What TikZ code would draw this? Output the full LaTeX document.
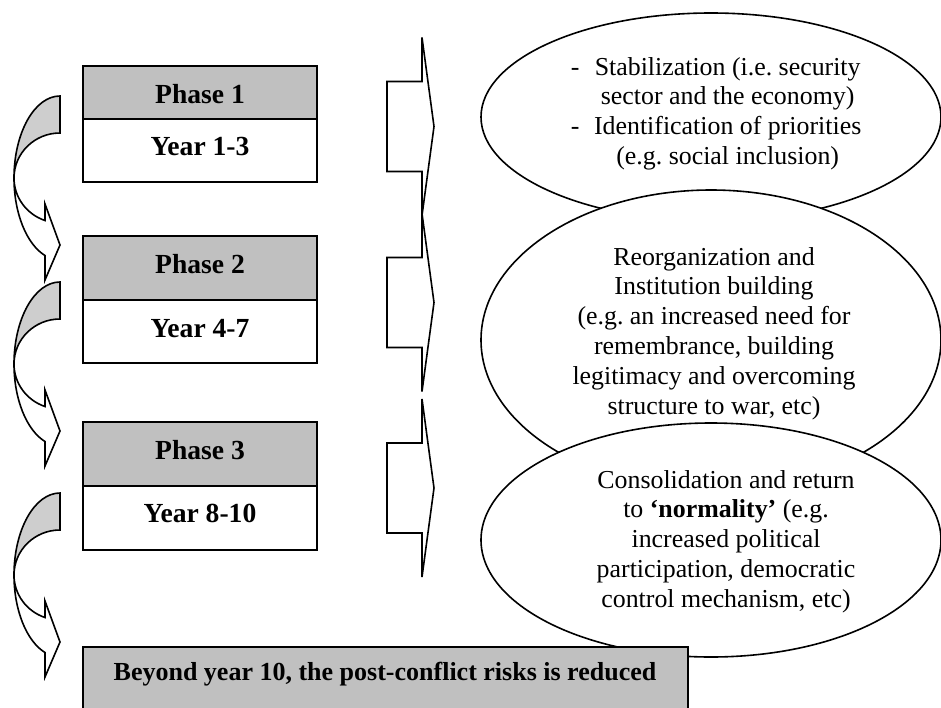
\documentclass[tikz,border=0pt]{standalone}
\usepackage{fontspec}
\setmainfont{Liberation Serif}
\usetikzlibrary{shapes.geometric}
\definecolor{boxgray}{RGB}{192,192,192}
\definecolor{arrowgray}{RGB}{206,206,206}
\frenchspacing
\begin{document}
\begin{tikzpicture}[x=0.75pt,y=-0.75pt,
  line width=1.2pt,
  cellg/.style={draw, fill=boxgray, line width=1.5pt, rectangle, inner sep=0pt, outer sep=0pt, anchor=north west, minimum width=175.5pt},
  cellw/.style={cellg, fill=white},
  lab/.style={inner sep=0pt, anchor=base, font=\fontsize{20.7}{24}\selectfont\bfseries},
  ell/.style={draw, fill=white, ellipse, inner sep=0pt, outer sep=0pt, minimum width=345pt},
  etext/.style={inner sep=0pt, font=\fontsize{19.4}{22.4}\selectfont\frenchspacing},
  curvarr/.pic={
    \filldraw[fill=arrowgray] (0,0) arc[start angle=-90,end angle=-180,x radius=46,y radius=82]
      arc[start angle=180,end angle=270,x radius=46,y radius=45] -- cycle;
    \filldraw[fill=white] (-46,82) arc[start angle=180,end angle=109,x radius=46,y radius=82]
      -- (-15,184) -- (0,149) -- (-15,108) -- (-15,124.5)
      arc[start angle=109,end angle=180,x radius=46,y radius=45] -- cycle;
  },
  brk/.pic={
    \draw (-35,-45) -- (0,-45) -- (0,-89) -- (12,0) -- (0,89) -- (0,45) -- (-35,45) -- cycle;
  }
]
\useasboundingbox (0,0) rectangle (941,707);

% curved arrows on the left
\pic at (60,96) {curvarr};
\pic at (60,282) {curvarr};
\pic at (60,493) {curvarr};

% phase boxes
\node[cellg, minimum height=39.75pt] (p1) at (83,66) {};
\node[cellw, minimum height=47.25pt] (y1) at (83,119) {};
\node[lab] (p1t) at (200,103) {Phase 1};
\node[lab] (y1t) at (200,155) {Year 1-3};

\node[cellg, minimum height=48pt] (p2) at (83,236) {};
\node[cellw, minimum height=47.25pt] (y2) at (83,300) {};
\node[lab] (p2t) at (200,273) {Phase 2};
\node[lab] (y2t) at (200,337) {Year 4-7};

\node[cellg, minimum height=48pt] (p3) at (83,422) {};
\node[cellw, minimum height=48pt] (y3) at (83,486) {};
\node[lab] (p3t) at (200,459) {Phase 3};
\node[lab] (y3t) at (200,522) {Year 8-10};

% bracket arrows
\pic at (422,126.5) {brk};
\pic at (422,302.5) {brk};
\pic at (422,488) {brk};

% ellipses
\node[ell, minimum height=156pt] (e1) at (711,117) {};
\node[etext, anchor=base west] (e1t) at (570,75)
  {\begin{tabular}[t]{@{}l@{\hspace{11pt}}c@{}}
   -& Stabilization (i.e. security\\
    & sector and the economy)\\
   -& Identification of priorities\\
    & (e.g. social inclusion)
   \end{tabular}};

\node[ell, minimum height=225pt] (e2) at (711,340) {};
\node[etext, anchor=base] (e2t) at (714,265)
  {\begin{tabular}[t]{@{}c@{}}
   Reorganization and\\
   Institution building\\
   (e.g. an increased need for\\
   remembrance, building\\
   legitimacy and overcoming\\
   structure to war, etc)
   \end{tabular}};

\node[ell, minimum height=175.5pt] (e3) at (711,540) {};
\node[etext, anchor=base] (e3t) at (726,488)
  {\begin{tabular}[t]{@{}c@{}}
   Consolidation and return\\
   to \textbf{‘normality’} (e.g.\\
   increased political\\
   participation, democratic\\
   control mechanism, etc)
   \end{tabular}};

% final box
\node[cellg, minimum width=453.75pt, minimum height=50pt] (fin) at (83,647) {};
\node[lab, font=\fontsize{19.5}{23}\selectfont\bfseries] (fint) at (385,680)
  {Beyond year 10, the post-conflict risks is reduced};
\end{tikzpicture}
\end{document}
